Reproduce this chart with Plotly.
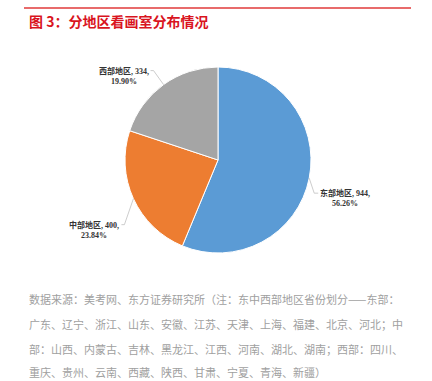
import math
import plotly.graph_objects as go

# ---- data ----
regions = ["东部地区", "中部地区", "西部地区"]
counts = [944, 400, 334]
shares = ["56.26%", "23.84%", "19.90%"]
colors = ["#5B9BD5", "#ED7D31", "#A5A5A5"]

title_text = "图 3：分地区看画室分布情况"
note_lines = [
    "数据来源：美考网、东方证券研究所（注：东中西部地区省份划分——东部：",
    "广东、辽宁、浙江、山东、安徽、江苏、天津、上海、福建、北京、河北；中",
    "部：山西、内蒙古、吉林、黑龙江、江西、河南、湖北、湖南；西部：四川、",
    "重庆、贵州、云南、西藏、陕西、甘肃、宁夏、青海、新疆）",
]

W, H = 432, 381
CX, CY, R = 218, 160, 93          # pie centre / radius in px

# leader elbow offsets (px, from slice edge point) and label side
elbow_off = [(5, 15), (-9, 26), (-10, -14)]
label_side = ["left", "right", "right"]

def px(x):
    return x / W

def py(y):
    return 1 - y / H

fig = go.Figure()
fig.add_trace(go.Pie(
    labels=regions, values=counts, sort=False, direction="clockwise", rotation=0,
    marker=dict(colors=colors, line=dict(color="white", width=1)),
    textinfo="none", hoverinfo="label+value+percent",
    domain=dict(x=[px(CX - R), px(CX + R)], y=[py(CY + R), py(CY - R)]),
    showlegend=False,
))

shapes = [dict(type="line", xref="paper", yref="paper",
               x0=px(24), x1=px(411), y0=py(8), y1=py(8),
               line=dict(color="#E03A3A", width=1.5))]
annotations = []

total = sum(counts)
cum = 0
for i, (lab, v, s) in enumerate(zip(regions, counts, shares)):
    mid = (cum + v / 2) / total * 2 * math.pi
    cum += v
    ex = CX + R * math.sin(mid)
    ey = CY - R * math.cos(mid)
    bx = ex + elbow_off[i][0]
    by = ey + elbow_off[i][1]
    if label_side[i] == "left":
        tx = bx + 4
        xanchor = "left"
    else:
        tx = bx - 3
        xanchor = "right"
    shapes.append(dict(type="path", xref="paper", yref="paper",
                       path=f"M {px(ex)},{py(ey)} L {px(bx)},{py(by)} L {px(tx)},{py(by)}",
                       line=dict(color="#BFBFBF", width=0.8)))
    annotations.append(dict(
        x=px(tx), y=py(by + 5), xref="paper", yref="paper",
        xanchor=xanchor, yanchor="middle", align="center", showarrow=False,
        text=f"<b>{lab}, {v},<br>{s}</b>",
        font=dict(family="Liberation Serif, Noto Sans CJK SC", size=8, color="#333333"),
    ))

annotations.append(dict(
    x=px(27), y=py(21), xref="paper", yref="paper", xanchor="left", yanchor="middle",
    showarrow=False, text=f"<b>{title_text}</b>",
    font=dict(family="Noto Sans CJK SC", size=14, color="#D9141E"),
))

note_y = [299, 324, 349, 372]
for t, yy in zip(note_lines, note_y):
    annotations.append(dict(
        x=px(27), y=py(yy), xref="paper", yref="paper", xanchor="left", yanchor="middle",
        showarrow=False, text=t,
        font=dict(family="Noto Sans CJK SC", size=11, color="#A0A0A0"),
    ))

fig.update_layout(
    width=W, height=H, margin=dict(l=0, r=0, t=0, b=0),
    paper_bgcolor="white", plot_bgcolor="white",
    shapes=shapes, annotations=annotations,
)

fig.write_html("out.html")
